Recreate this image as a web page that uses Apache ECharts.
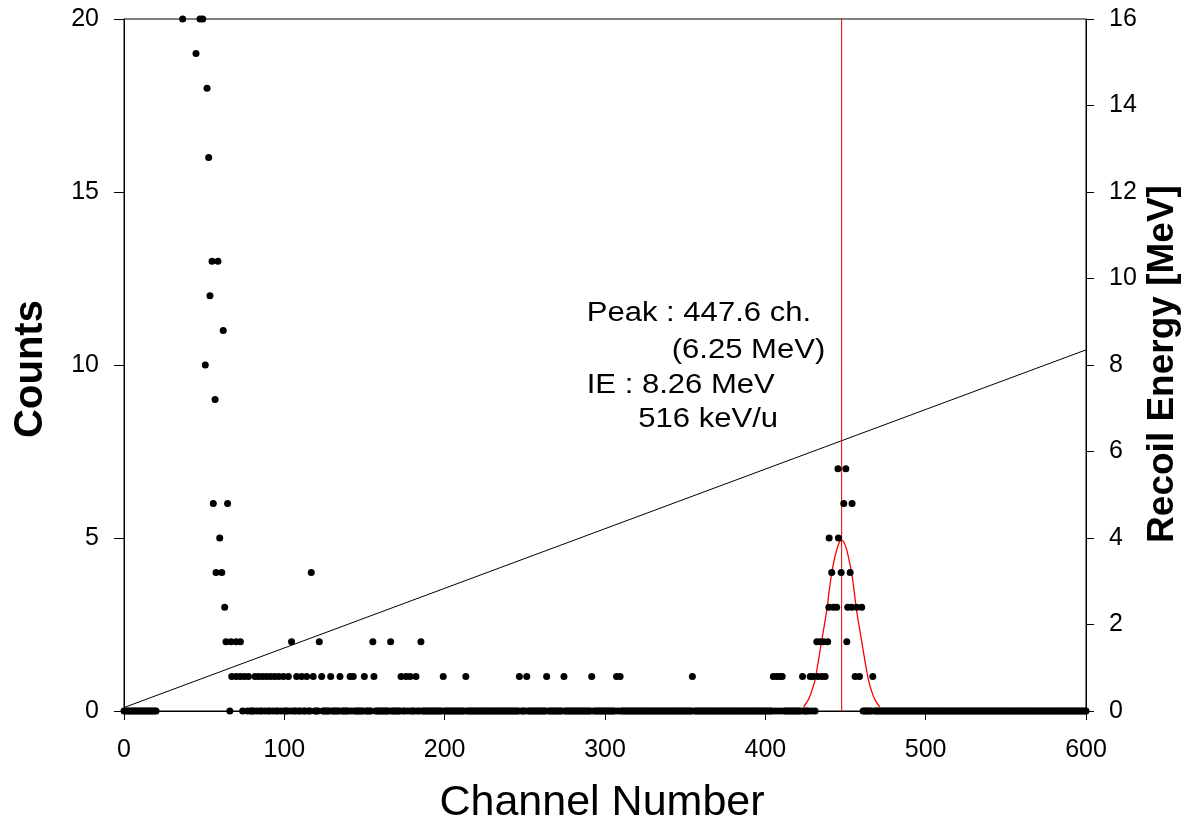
<!DOCTYPE html>
<html>
<head>
<meta charset="utf-8">
<script src="https://cdn.jsdelivr.net/npm/echarts@6/dist/echarts.min.js"></script>
<style>
html,body{margin:0;padding:0;background:#fff;}
#chart{width:1195px;height:821px;}
</style>
</head>
<body>
<div id="chart"></div>
<script>
// ---- data ----
// channels of points at each count level
const ch20 = [36.6, 47.4, 49.1];
const ch19 = [44.9];
const ch18 = [51.8];
const ch16 = [52.8];
const ch13 = [54.9, 58.6];
const ch12 = [53.6];
const ch11 = [61.9];
const ch10 = [50.7];
const ch9  = [56.8];
const ch7  = [445.3, 450.2];
const ch6  = [55.7, 64.6, 448.9, 454.1];
const ch5  = [59.7, 439.8, 445.6];
const ch4  = [57.4, 61.0, 116.8, 441.4, 447.3, 452.9];
const ch3  = [62.8, 439.6, 442.5, 444.5, 451.4, 453.9, 457.0, 460.1];
const ch2  = [63.6, 66.7, 69.9, 72.6, 104.5, 121.8, 155.2, 166.3, 185.2, 432.1, 434.2, 436.3, 438.9, 450.8];
const ch1  = [67.2, 70.0, 72.5, 75.0, 77.6, 81.7, 84.0, 86.5, 89.0, 91.5, 94.0, 96.5, 99.4,
              102.5, 107.7, 110.8, 113.9, 118.0, 123.3, 128.9, 134.7, 141.0, 143.0, 149.9, 155.9,
              172.8, 175.9, 178.4, 182.1, 199.1, 213.2, 246.6, 251.2, 263.6, 274.4, 291.7, 307.2,
              309.4, 354.5, 405.0, 407.0, 409.0, 410.5, 423.2, 428.0, 430.0, 432.7, 435.2, 437.3,
              456.0, 458.7, 467.0];
// channel ranges whose count is zero
const zeroRanges = [[0, 20], [66, 66], [74, 74], [77, 431], [435, 435], [460, 600]];

// Gaussian fit curve
const fitX = [423.9, 427.1, 429.1, 431.0, 432.9, 434.9, 436.7, 438.5, 439.9, 441.4, 442.9, 444.5, 446.1, 447.6,
              449.1, 450.8, 452.3, 453.9, 455.3, 456.7, 458.5, 460.3, 462.3, 464.3, 466.1, 468.1, 471.3];
const fitY = [0.12, 0.35, 0.6, 0.9, 1.4, 1.96, 2.45, 2.97, 3.5, 3.98, 4.35, 4.65, 4.87, 4.94,
              4.87, 4.65, 4.35, 3.98, 3.5, 2.97, 2.45, 1.96, 1.4, 0.9, 0.6, 0.35, 0.12];

// calibration line (right axis, MeV)
const energyX = [0, 600];
const energyY = [0.08, 8.35];

const peakChannel = 447.6;

const xTicks = [0, 100, 200, 300, 400, 500, 600];
const yLeftTicks = [0, 5, 10, 15, 20];
const yRightTicks = [0, 2, 4, 6, 8, 10, 12, 14, 16];

const annotation = ['Peak : 447.6 ch.', '(6.25 MeV)', 'IE : 8.26 MeV', '516 keV/u'];

// ---- build series data ----
const levels = [[20, ch20], [19, ch19], [18, ch18], [16, ch16], [13, ch13], [12, ch12], [11, ch11],
                [10, ch10], [9, ch9], [7, ch7], [6, ch6], [5, ch5], [4, ch4], [3, ch3], [2, ch2], [1, ch1]];
const pts = [];
const used = new Set();
levels.forEach(([c, arr]) => arr.forEach(x => { pts.push([x, c]); used.add(Math.round(x)); }));
zeroRanges.forEach(([a, b]) => {
  for (let c = a; c <= b; c++) if (!used.has(c)) pts.push([c, 0]);
});
const fitData = fitX.map((x, i) => [x, fitY[i]]);
const energyData = energyX.map((x, i) => [x, energyY[i]]);

const FONT = '"Liberation Sans", Arial, sans-serif';
const chart = echarts.init(document.getElementById('chart'), null, {renderer: 'canvas'});

const annoLeft = [586.7, 671.7, 586.7, 638.3];
const annoMid = [314, 351, 386, 420];

chart.setOption({
  backgroundColor: '#fff',
  animation: false,
  grid: {left: 124, right: 109, top: 19, bottom: 110, show: true, borderColor: '#000', borderWidth: 1, backgroundColor: 'transparent'},
  xAxis: {
    type: 'value', min: xTicks[0], max: xTicks[xTicks.length - 1], interval: 100,
    axisLine: {show: true, onZero: false, lineStyle: {color: '#000', width: 1}},
    axisTick: {show: true, inside: false, length: 9, lineStyle: {color: '#000'}},
    axisLabel: {color: '#000', fontSize: 25, fontFamily: FONT, margin: 27},
    splitLine: {show: false}
  },
  yAxis: [{
    type: 'value', min: yLeftTicks[0], max: yLeftTicks[yLeftTicks.length - 1], interval: 5, position: 'left',
    axisLine: {show: true, lineStyle: {color: '#000', width: 1}},
    axisTick: {show: true, inside: false, length: 10, lineStyle: {color: '#000'}},
    axisLabel: {color: '#000', fontSize: 25, fontFamily: FONT, margin: 25},
    splitLine: {show: false}
  }, {
    type: 'value', min: yRightTicks[0], max: yRightTicks[yRightTicks.length - 1], interval: 2, position: 'right',
    axisLine: {show: true, lineStyle: {color: '#000', width: 1}},
    axisTick: {show: true, inside: false, length: 8, lineStyle: {color: '#000'}},
    axisLabel: {color: '#000', fontSize: 25, fontFamily: FONT, margin: 23},
    splitLine: {show: false}
  }],
  series: [{
    name: 'energy', type: 'line', yAxisIndex: 1, data: energyData, symbol: 'none',
    lineStyle: {color: '#000', width: 1}, silent: true, z: 2
  }, {
    name: 'peak', type: 'line', yAxisIndex: 0, data: [[peakChannel, 0], [peakChannel, 20]], symbol: 'none',
    lineStyle: {color: '#e00000', width: 1}, silent: true, z: 3
  }, {
    name: 'fit', type: 'line', yAxisIndex: 0, data: fitData, symbol: 'none', smooth: 0.3,
    lineStyle: {color: '#ff0000', width: 1.3}, silent: true, z: 3
  }, {
    name: 'counts', type: 'scatter', yAxisIndex: 0, data: pts, symbol: 'circle', symbolSize: 7,
    itemStyle: {color: '#000', opacity: 1}, clip: false, silent: true, z: 4
  }],
  graphic: [
    ...annotation.map((t, i) => ({
      type: 'text', x: annoLeft[i], y: annoMid[i], scaleX: 1.15, scaleY: 1,
      style: {text: t, x: 0, y: 0, font: '27px ' + FONT, fill: '#000', textAlign: 'left', textVerticalAlign: 'middle'}
    })),
    {type: 'text', x: 602, y: 803,
     style: {text: 'Channel Number', x: 0, y: 0, font: '43px ' + FONT, fill: '#000', textAlign: 'center', textVerticalAlign: 'middle'}},
    {type: 'text', x: 31, y: 369, rotation: Math.PI / 2,
     style: {text: 'Counts', x: 0, y: 0, font: 'bold 40px ' + FONT, fill: '#000', textAlign: 'center', textVerticalAlign: 'middle'}},
    {type: 'text', x: 1163, y: 364, rotation: Math.PI / 2,
     style: {text: 'Recoil Energy [MeV]', x: 0, y: 0, font: 'bold 37px ' + FONT, fill: '#000', textAlign: 'center', textVerticalAlign: 'middle'}}
  ]
});
</script>
</body>
</html>
